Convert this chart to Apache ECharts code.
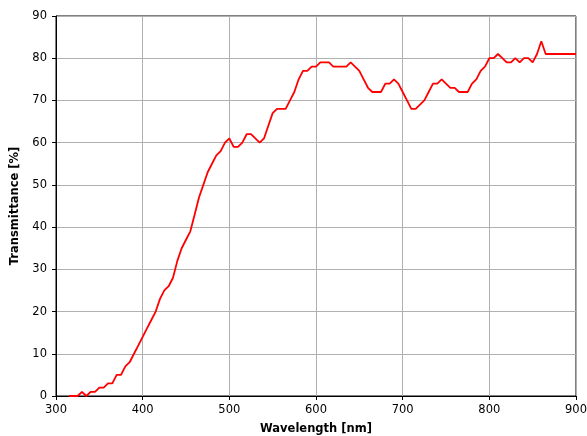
<!DOCTYPE html>
<html>
<head>
<meta charset="utf-8">
<script src="https://cdn.jsdelivr.net/npm/echarts@6/dist/echarts.min.js"></script>
<style>html,body{margin:0;padding:0;background:#fff;}#c{width:587px;height:436px;}</style>
</head>
<body>
<div id="c"></div>
<script>
const wavelengths = [315,320,325,330,335,340,345,350,355,360,365,370,375,380,385,390,395,400,405,410,415,420,425,430,435,440,445,450,455,460,465,470,475,480,485,490,495,500,505,510,515,520,525,530,535,540,545,550,555,560,565,570,575,580,585,590,595,600,605,610,615,620,625,630,635,640,645,650,655,660,665,670,675,680,685,690,695,700,705,710,715,720,725,730,735,740,745,750,755,760,765,770,775,780,785,790,795,800,805,810,815,820,825,830,835,840,845,850,855,860,865,870,875,880,885,890,895,900];
const transmittance = [0,0,0,1,0,1,1,2,2,3,3,5,5,7,8,10,12,14,16,18,20,23,25,26,28,32,35,37,39,43,47,50,53,55,57,58,60,61,59,59,60,62,62,61,60,61,64,67,68,68,68,70,72,75,77,77,78,78,79,79,79,78,78,78,78,79,78,77,75,73,72,72,72,74,74,75,74,72,70,68,68,69,70,72,74,74,75,74,73,73,72,72,72,74,75,77,78,80,80,81,80,79,79,80,79,80,80,79,81,84,81,81,81,81,81,81,81,81];
const xTicks = [300,400,500,600,700,800,900];
const yTicks = [0,10,20,30,40,50,60,70,80,90];

const font = 'DejaVu Sans';
const chart = echarts.init(document.getElementById('c'), null, {renderer:'canvas'});
chart.setOption({
  animation: false,
  backgroundColor: '#fff',
  grid: {left: 56, right: 11, top: 16, bottom: 40, containLabel: false, outerBoundsMode: 'none', show: true, borderColor: '#000', borderWidth: 1, backgroundColor: 'transparent'},
  xAxis: {
    type: 'value', min: xTicks[0], max: xTicks[xTicks.length-1], interval: 100,
    name: 'Wavelength [nm]', nameLocation: 'middle', nameGap: 27,
    nameTextStyle: {fontFamily: font, fontSize: 11.5, fontWeight: 'bold', color: '#000'},
    axisLine: {show: true, lineStyle: {color: '#000', width: 1}},
    axisTick: {show: true, inside: false, length: 4, lineStyle: {color: '#000'}},
    axisLabel: {fontFamily: font, fontSize: 11.5, color: '#000', margin: 8},
    splitLine: {show: true, lineStyle: {color: '#b0b0b0', width: 1}}
  },
  yAxis: {
    type: 'value', min: yTicks[0], max: yTicks[yTicks.length-1], interval: 10,
    name: 'Transmittance [%]', nameLocation: 'middle', nameGap: 33, nameRotate: 90,
    nameTextStyle: {fontFamily: font, fontSize: 11.5, fontWeight: 'bold', color: '#000'},
    axisLine: {show: true, lineStyle: {color: '#000', width: 1}},
    axisTick: {show: true, inside: false, length: 4, lineStyle: {color: '#000'}},
    axisLabel: {fontFamily: font, fontSize: 11.5, color: '#000', margin: 9},
    splitLine: {show: true, lineStyle: {color: '#b0b0b0', width: 1}}
  },
  series: [{
    type: 'line',
    data: wavelengths.map((w, i) => [w, transmittance[i]]),
    showSymbol: false,
    lineStyle: {color: '#ff0000', width: 1.8},
    itemStyle: {color: '#ff0000'}
  }]
});
</script>
</body>
</html>
